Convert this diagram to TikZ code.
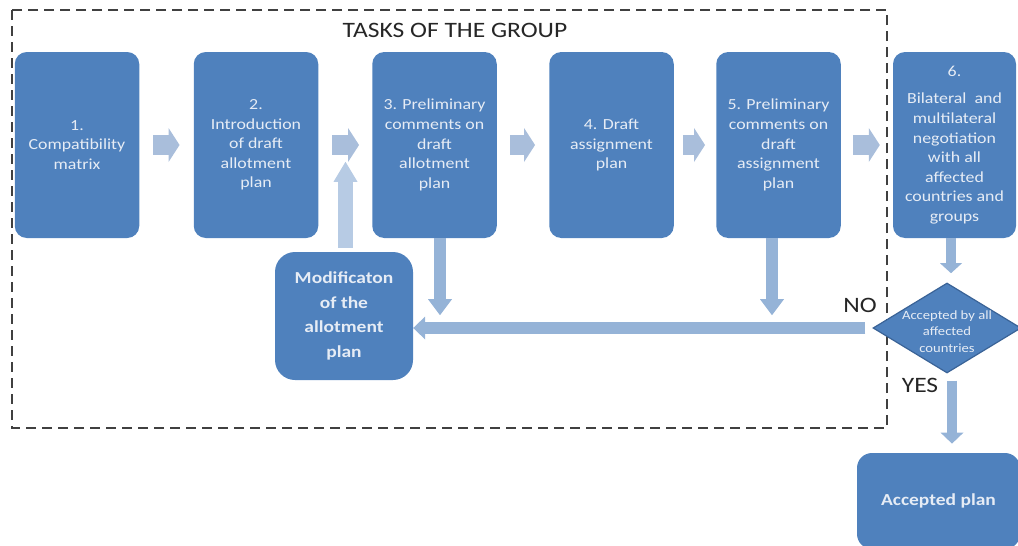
\documentclass[tikz,border=0pt]{standalone}
\usepackage{fontspec}
\setmainfont{Carlito}[FakeStretch=1.16]
\usetikzlibrary{arrows.meta,shapes.geometric}
\definecolor{boxblue}{HTML}{4F81BD}
\definecolor{boxtext}{HTML}{E6ECF5}
\definecolor{arrowlight}{HTML}{A9BEDB}
\definecolor{arrowup}{HTML}{B7CBE4}
\definecolor{arrowmid}{HTML}{95B3D7}
\definecolor{diaedge}{HTML}{3A6397}
\definecolor{framegray}{HTML}{404040}
\begin{document}
\begin{tikzpicture}[x=1pt,y=-1pt,
  task/.style={fill=boxblue, rounded corners=12pt, minimum width=124.5pt,
    minimum height=186pt, inner sep=0pt, align=center, text=boxtext,
    font=\fontsize{15.4}{19.6}\selectfont},
  bigbox/.style={fill=boxblue, inner sep=0pt, align=center, text=boxtext,
    font=\fontsize{16.8}{24.5}\selectfont\bfseries},
  decision/.style={diamond, fill=boxblue, draw=diaedge, line width=1.2pt,
    minimum width=148pt, minimum height=90pt, inner sep=0pt},
  dectext/.style={align=center, text=boxtext, inner sep=0pt,
    font=\fontsize{12.6}{16.5}\selectfont},
  plainlabel/.style={inner sep=0pt, text=black!85, font=\fontsize{22}{24}\selectfont},
  flowarrow/.style={line width=20pt, arrowlight,
    -{Triangle[length=11pt,width=34pt,line width=0pt]}},
  uparrow/.style={line width=15pt, arrowup,
    -{Triangle[length=20pt,width=24pt,line width=0pt]}},
  downarrow/.style={line width=12pt, arrowmid,
    -{Triangle[length=16pt,width=24pt,line width=0pt]}},
  backarrow/.style={line width=12.5pt, arrowmid,
    -{Triangle[length=12pt,width=23pt,line width=0pt]}},
  shortdown/.style={line width=10pt, arrowmid,
    -{Triangle[length=10pt,width=22pt,line width=0pt]}},
  yesarrow/.style={line width=9.5pt, arrowmid,
    -{Triangle[length=11pt,width=23pt,line width=0pt]}},
  groupframe/.style={draw=framegray, line width=2.8pt, dash pattern=on 10pt off 6pt}
]
\useasboundingbox (0,0) rectangle (1018,546);

% frame around the group's tasks
\draw[groupframe] (12,10) rectangle (887,428);
\node[plainlabel] (title) at (455,30) {TASKS OF THE GROUP};

% main sequence of steps
\node[task] (b1) at (77,145) {1.\\Compatibility\\matrix};
\node[task] (b2) at (256,145) {2.\\Introduction\\of draft\\allotment\\plan};
\node[task] (b3) at (434.5,145) {3. Preliminary\\comments on\\draft\\allotment\\plan};
\node[task] (b4) at (611.5,145) {4. Draft\\assignment\\plan};
\node[task] (b5) at (778.5,145) {5. Preliminary\\comments on\\draft\\assignment\\plan};
\node[task, minimum width=123pt] (b6) at (954.5,145)
  {6.\\[8pt]Bilateral\ \ and\\multilateral\\negotiation\\with all\\affected\\countries and\\groups};

% modification and outcome boxes
\node[bigbox, rounded corners=20pt, minimum width=138pt, minimum height=128pt] (mod) at (344,316)
  {Modificaton\\of the\\allotment\\plan};
\node[bigbox, rounded corners=15pt, minimum width=163pt, minimum height=96pt] (acc) at (938.5,501)
  {Accepted plan};

% decision
\node[decision] (dia) at (947,328) {};
\node[dectext] (diat) at (947,331.5) {Accepted by all\\affected\\countries};
\node[plainlabel] (no) at (860,305) {NO};
\node[plainlabel] (yes) at (920,385) {YES};

% arrows between the steps
\draw[flowarrow] ([xshift=14pt]b1.east) -- ([xshift=-14pt]b2.west);
\draw[flowarrow] ([xshift=14pt]b2.east) -- ([xshift=-13pt]b3.west);
\draw[flowarrow] ([xshift=13pt]b3.east) -- ([xshift=-14pt]b4.west);
\draw[flowarrow] ([xshift=9pt]b4.east) -- ([xshift=-11pt]b5.west);
\draw[flowarrow] ([xshift=12pt]b5.east) -- ([xshift=-13pt]b6.west);

% feedback loop
\draw[uparrow] ([xshift=1.5pt,yshift=4pt]mod.north) -- ++(0,-86);
\draw[downarrow] ([xshift=5.5pt]b3.south) -- ++(0,77);
\draw[downarrow] ([xshift=-6.5pt]b5.south) -- ++(0,77);
\draw[backarrow] ([xshift=-7pt]dia.west) -- (dia.west -| mod.east);

% negotiation outcome
\draw[shortdown] ([xshift=-3.5pt]b6.south) -- ++(0,35);
\draw[yesarrow] ([xshift=5pt,yshift=-7pt]dia.south) -- ++(0,63);
\end{tikzpicture}
\end{document}
